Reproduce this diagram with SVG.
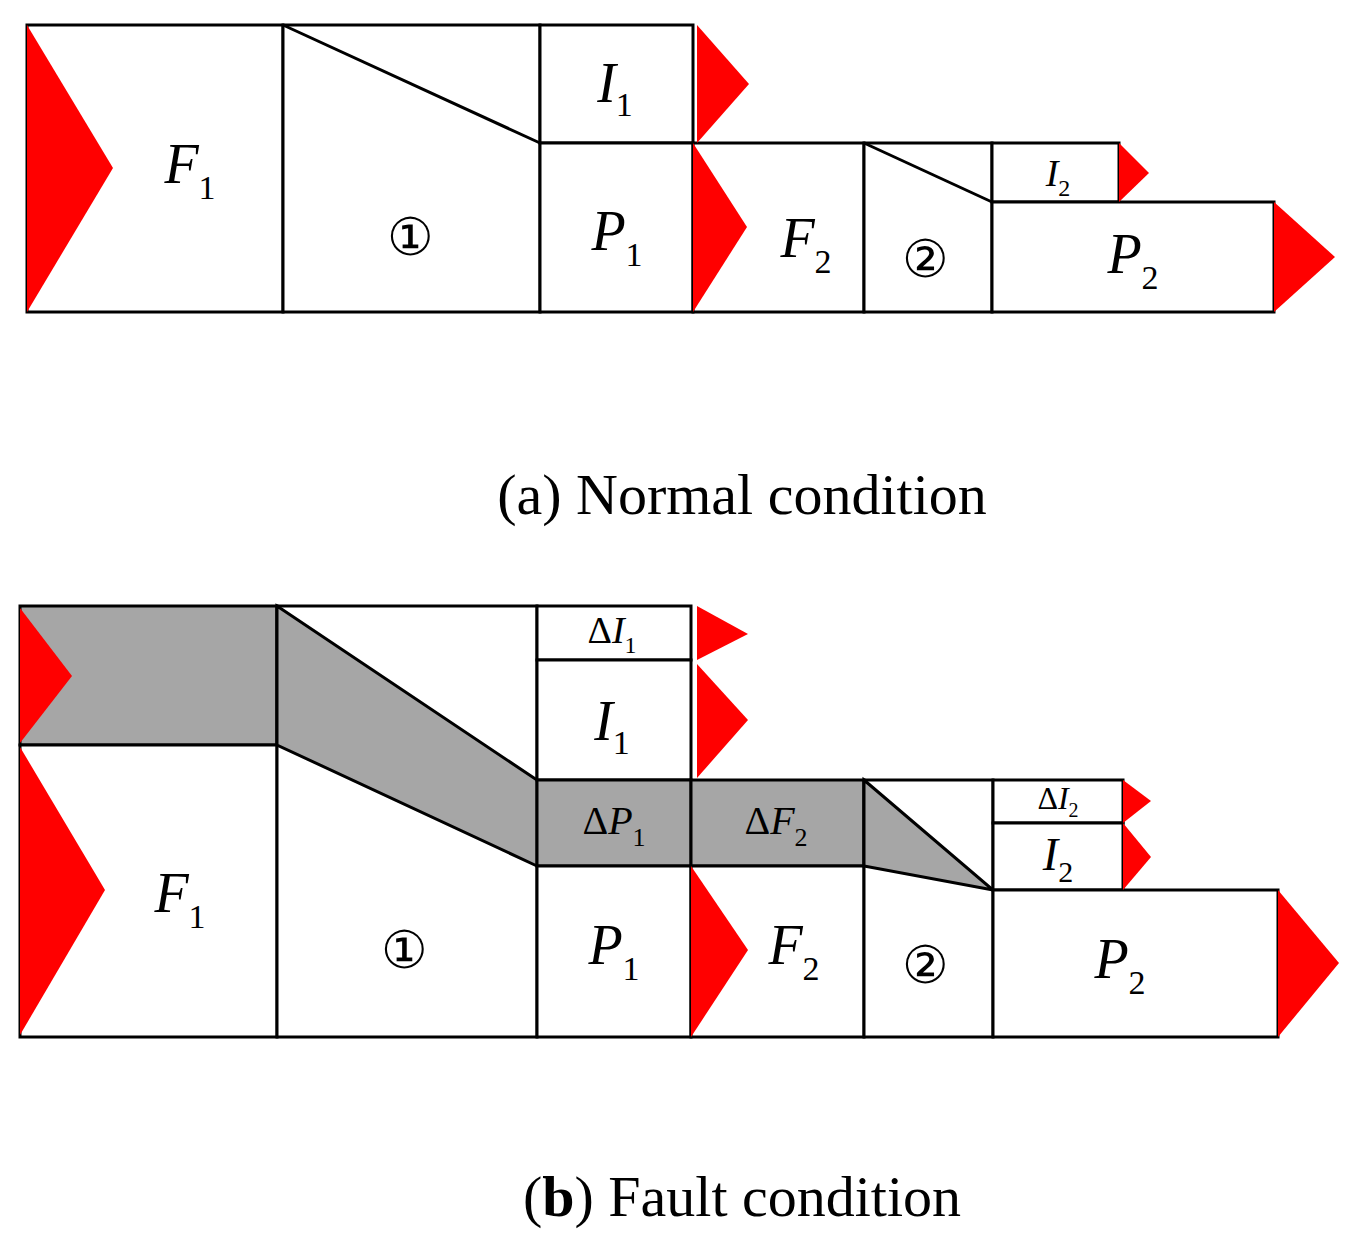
<svg xmlns="http://www.w3.org/2000/svg" width="1356" height="1244" viewBox="0 0 1356 1244">
<style>
.b{fill:#fff;stroke:#000;stroke-width:3}
.g{fill:#a6a6a6;stroke:#000;stroke-width:3}
.l{fill:none;stroke:#000;stroke-width:3}
.r{fill:#ff0000;stroke:none}
.t{font-family:"Liberation Serif",serif;font-style:italic;fill:#000;text-anchor:middle}
.s{font-style:normal}
.c{font-family:"Liberation Serif",serif;fill:#000;text-anchor:middle}
</style>
<rect width="1356" height="1244" fill="#fff"/>
<g id="a">
<rect class="b" x="27" y="25" width="256" height="287"/>
<rect class="b" x="283" y="25" width="257" height="287"/>
<line class="l" x1="283" y1="25" x2="540" y2="143"/>
<rect class="b" x="540" y="25" width="153" height="118"/>
<rect class="b" x="540" y="143" width="153" height="169"/>
<rect class="b" x="693" y="143" width="171" height="169"/>
<rect class="b" x="864" y="143" width="128" height="169"/>
<line class="l" x1="864" y1="143" x2="992" y2="202"/>
<rect class="b" x="992" y="143" width="127" height="59"/>
<rect class="b" x="992" y="202" width="282" height="110"/>
<polygon class="r" points="27,25 113,168 27,312"/>
<polygon class="r" points="697,25 749,84 697,143"/>
<polygon class="r" points="693,143 747,227 693,312"/>
<polygon class="r" points="1119,143 1149,173 1119,202"/>
<polygon class="r" points="1274,202 1335,257 1274,312"/>
<text class="t" x="190" y="183" font-size="56">F<tspan class="s" font-size="34" dy="16">1</tspan></text>
<text class="c" x="410" y="255" font-size="52">①</text>
<text class="t" x="615" y="102" font-size="56">I<tspan class="s" font-size="34" dy="14">1</tspan></text>
<text class="t" x="617" y="250" font-size="56">P<tspan class="s" font-size="34" dy="16">1</tspan></text>
<text class="t" x="806" y="257" font-size="56">F<tspan class="s" font-size="34" dy="16">2</tspan></text>
<text class="c" x="925" y="277" font-size="52">②</text>
<text class="t" x="1058" y="186" font-size="38">I<tspan class="s" font-size="24" dy="10">2</tspan></text>
<text class="t" x="1133" y="273" font-size="56">P<tspan class="s" font-size="34" dy="16">2</tspan></text>
<text class="c" x="742" y="514" font-size="58">(a) Normal condition</text>
</g>
<g id="b">
<rect class="g" x="20" y="606" width="257" height="139"/>
<rect class="b" x="20" y="745" width="257" height="292"/>
<rect class="b" x="277" y="606" width="260" height="431"/>
<polygon class="g" points="277,606 537,780 537,866 277,745"/>
<rect class="b" x="537" y="606" width="154" height="54"/>
<rect class="b" x="537" y="660" width="154" height="120"/>
<rect class="g" x="537" y="780" width="154" height="86"/>
<rect class="b" x="537" y="866" width="154" height="171"/>
<rect class="g" x="691" y="780" width="173" height="86"/>
<rect class="b" x="691" y="866" width="173" height="171"/>
<rect class="b" x="864" y="780" width="129" height="257"/>
<polygon class="g" points="864,780 993,890 864,866"/>
<rect class="b" x="993" y="780" width="130" height="43"/>
<rect class="b" x="993" y="823" width="130" height="67"/>
<rect class="b" x="993" y="890" width="285" height="147"/>
<polygon class="r" points="20,608 72,676 20,743"/>
<polygon class="r" points="20,747 105,890 20,1035"/>
<polygon class="r" points="697,606 748,634 697,660"/>
<polygon class="r" points="697,664 748,720 697,778"/>
<polygon class="r" points="691,866 748,950 691,1037"/>
<polygon class="r" points="1123,780 1151,801 1123,823"/>
<polygon class="r" points="1123,823 1151,857 1123,890"/>
<polygon class="r" points="1278,890 1339,963 1278,1037"/>
<text class="t" x="180" y="912" font-size="56">F<tspan class="s" font-size="34" dy="16">1</tspan></text>
<text class="c" x="404" y="968" font-size="52">①</text>
<text class="t" x="612" y="643" font-size="38"><tspan class="s">Δ</tspan>I<tspan class="s" font-size="24" dy="10">1</tspan></text>
<text class="t" x="612" y="740" font-size="56">I<tspan class="s" font-size="34" dy="14">1</tspan></text>
<text class="t" x="614" y="834" font-size="40"><tspan class="s">Δ</tspan>P<tspan class="s" font-size="26" dy="12">1</tspan></text>
<text class="t" x="776" y="834" font-size="40"><tspan class="s">Δ</tspan>F<tspan class="s" font-size="26" dy="12">2</tspan></text>
<text class="t" x="614" y="964" font-size="56">P<tspan class="s" font-size="34" dy="16">1</tspan></text>
<text class="t" x="794" y="964" font-size="56">F<tspan class="s" font-size="34" dy="16">2</tspan></text>
<text class="c" x="925" y="983" font-size="52">②</text>
<text class="t" x="1058" y="809" font-size="32"><tspan class="s">Δ</tspan>I<tspan class="s" font-size="20" dy="8">2</tspan></text>
<text class="t" x="1058" y="870" font-size="46">I<tspan class="s" font-size="30" dy="12">2</tspan></text>
<text class="t" x="1120" y="978" font-size="56">P<tspan class="s" font-size="34" dy="16">2</tspan></text>
<text class="c" x="742" y="1216" font-size="58">(<tspan font-weight="bold">b</tspan>) Fault condition</text>
</g>
</svg>
